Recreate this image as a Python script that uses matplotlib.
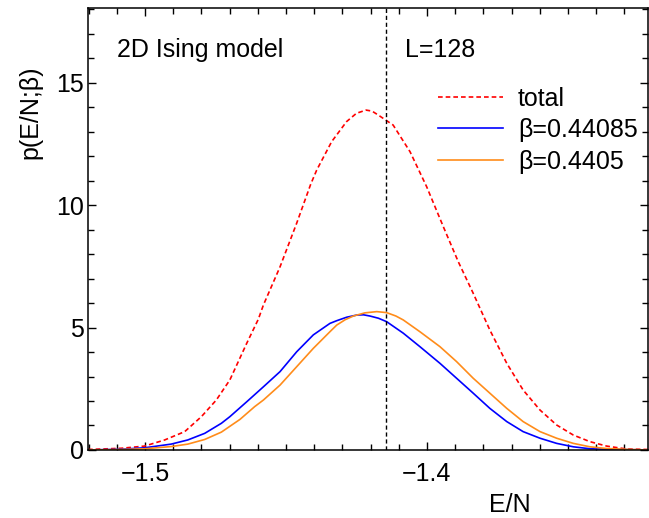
import matplotlib
matplotlib.use("Agg")
import matplotlib.pyplot as plt
from matplotlib.ticker import MultipleLocator

plt.rcParams['font.family'] = ['Liberation Sans', 'DejaVu Sans']

# energy density E/N
x_total = [-1.5202, -1.5084, -1.5001, -1.4930, -1.4859, -1.4800, -1.4747, -1.4699,
           -1.4639, -1.4598, -1.4580, -1.4521, -1.4462, -1.4412, -1.4391, -1.4338,
           -1.4285, -1.4250, -1.4216, -1.4195, -1.4173, -1.4120, -1.4060, -1.4001,
           -1.3942, -1.3889, -1.3836, -1.3777, -1.3717, -1.3659, -1.3599, -1.3540,
           -1.3481, -1.3422, -1.3363, -1.3292, -1.3216]
p_total = [0.02, 0.07, 0.16, 0.41, 0.75, 1.36, 2.04, 2.86,
           4.36, 5.34, 5.92, 7.48, 9.26, 10.86, 11.43, 12.59,
           13.41, 13.75, 13.88, 13.84, 13.68, 13.27, 12.18, 10.75,
           9.12, 7.69, 6.40, 4.90, 3.54, 2.45, 1.63, 1.02,
           0.61, 0.34, 0.16, 0.04, 0.02]

x_b1 = [-1.5202, -1.5084, -1.5001, -1.4907, -1.4848, -1.4788, -1.4729, -1.4699,
        -1.4639, -1.4580, -1.4521, -1.4462, -1.4403, -1.4344, -1.4320, -1.4285,
        -1.4249, -1.4225, -1.4202, -1.4172, -1.4143, -1.4084, -1.4025, -1.3954,
        -1.3895, -1.3836, -1.3777, -1.3717, -1.3659, -1.3599, -1.3540, -1.3481,
        -1.3422, -1.3316, -1.3216]
p_b1 = [0.0, 0.03, 0.09, 0.24, 0.41, 0.68, 1.09, 1.36,
        1.97, 2.58, 3.20, 4.01, 4.70, 5.17, 5.28, 5.42,
        5.51, 5.52, 5.47, 5.38, 5.24, 4.77, 4.22, 3.54,
        2.93, 2.32, 1.70, 1.16, 0.75, 0.48, 0.27, 0.13,
        0.05, 0.02, 0.0]

x_b2 = [-1.5202, -1.5084, -1.5001, -1.4907, -1.4848, -1.4788, -1.4729, -1.4663,
        -1.4611, -1.4580, -1.4521, -1.4462, -1.4403, -1.4344, -1.4320, -1.4290,
        -1.4261, -1.4220, -1.4178, -1.4143, -1.4110, -1.4084, -1.4025, -1.3954,
        -1.3895, -1.3836, -1.3777, -1.3717, -1.3659, -1.3599, -1.3540, -1.3481,
        -1.3422, -1.3363, -1.3280, -1.3216]
p_b2 = [0.0, 0.02, 0.05, 0.14, 0.24, 0.43, 0.73, 1.25,
        1.77, 2.04, 2.65, 3.40, 4.15, 4.83, 5.10, 5.32,
        5.47, 5.60, 5.65, 5.61, 5.47, 5.31, 4.83, 4.22,
        3.61, 2.93, 2.32, 1.70, 1.16, 0.75, 0.48, 0.27,
        0.13, 0.06, 0.02, 0.0]

beta_c_line = -1.4145

fig = plt.figure(figsize=(6.49, 5.18), dpi=100)
ax = fig.add_axes([0.1356, 0.1313, 0.8629, 0.8533])

ax.plot(x_total, p_total, color='#ff0000', lw=1.2, ls=(0, (2.8, 1.8)), label='total')
ax.plot(x_b1, p_b1, color='#0000ff', lw=1.2, label='β=0.44085')
ax.plot(x_b2, p_b2, color='#ff8c1a', lw=1.2, label='β=0.4405')
ax.axvline(beta_c_line, color='black', lw=1.0, ls=(0, (3, 2)))

ax.set_xlim(-1.5202, -1.3216)
ax.set_ylim(0, 18.05)

ax.xaxis.set_major_locator(MultipleLocator(0.1))
ax.xaxis.set_minor_locator(MultipleLocator(0.01))
ax.yaxis.set_major_locator(MultipleLocator(5))
ax.yaxis.set_minor_locator(MultipleLocator(1))
ax.xaxis.set_major_formatter(plt.FuncFormatter(lambda v, _: f'{v:.1f}'.replace('-', '\u2212')))
ax.tick_params(which='both', direction='in', top=True, right=True, width=1.0, labelsize=18)
ax.tick_params(which='major', length=6)
ax.tick_params(which='minor', length=4.5)
ax.tick_params(axis='x', pad=9)
ax.tick_params(axis='y', pad=3)
for s in ax.spines.values():
    s.set_linewidth(1.1)

ax.set_xlabel('E/N', fontsize=18)
ax.xaxis.set_label_coords(0.754, -0.097)
ax.set_ylabel('p(E/N;β)', fontsize=18)
ax.yaxis.set_label_coords(-0.081, 0.765)

ax.text(0.0518, 0.889, '2D Ising model', transform=ax.transAxes, fontsize=18, va='baseline')
ax.text(0.566, 0.889, 'L=128', transform=ax.transAxes, fontsize=18, va='baseline')

ax.legend(loc='upper left', bbox_to_anchor=(0.625, 0.822), frameon=False, fontsize=18,
          handlelength=2.6, handletextpad=0.6, labelspacing=0.3, borderpad=0,
          borderaxespad=0)

fig.savefig('out.png', dpi=100)
